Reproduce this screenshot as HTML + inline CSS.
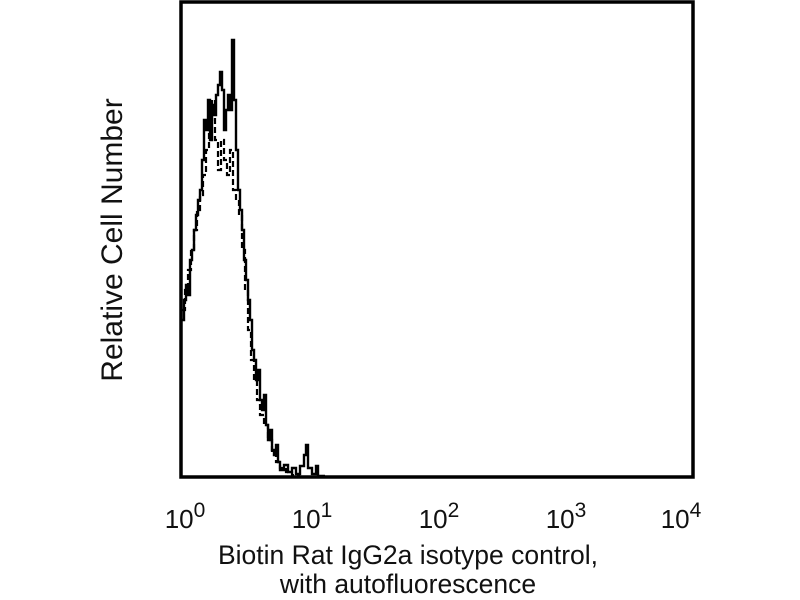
<!DOCTYPE html>
<html><head><style>
html,body{margin:0;padding:0;background:#fff;width:800px;height:600px;overflow:hidden}
text{font-family:"Liberation Sans",Arial,sans-serif;fill:#111}
</style></head><body>
<svg width="800" height="600" viewBox="0 0 800 600">
<rect x="181" y="2" width="512" height="475" fill="#fff" stroke="#000" stroke-width="3.5"/>
<path fill="none" stroke="#000" stroke-width="2.4" stroke-linejoin="miter" d="M182,320 H184 V300 H186 V285 H188 V295 H190 V260 H192 V250 H194 V230 H196 V215 H198 V200 H200 V190 H202 V160 H204 V120 H206 V130 H208 V100 H210 V140 H212 V105 H214 V115 H216 V95 H218 V85 H220 V72 H222 V90 H224 V130 H226 V110 H228 V95 H230 V110 H232 V40 H234 V100 H236 V150 H238 V190 H240 V210 H242 V230 H244 V260 H246 V280 H248 V300 H250 V320 H252 V350 H254 V360 H256 V380 H258 V370 H260 V400 H262 V410 H264 V395 H266 V425 H268 V440 H270 V430 H272 V450 H274 V455 H276 V445 H278 V462 H280 V470 H284 V465 H288 V472 H292 V468 H296 V474 H300 V466 H304 V455 H306 V445 H308 V468 H312 V474 H316 V466 H318 V476 H325"/>
<path fill="none" stroke="#000" stroke-width="2.2" stroke-dasharray="6,3" d="M182,310 H185 V290 H188 V270 H191 V250 H194 V230 H197 V210 H200 V195 H203 V175 H206 V150 H209 V120 H212 V100 H215 V140 H218 V170 H221 V140 H224 V160 H227 V175 H230 V150 H233 V190 H236 V200 H239 V215 H242 V250 H245 V290 H248 V330 H251 V360 H254 V380 H257 V400 H260 V415 H264 V425 H268 V440 H272 V452 H276 V462 H280 V468 H286 V472 H292 V475 H300"/>
<g font-size="26" text-anchor="middle">
<text x="185" y="528">10<tspan font-size="21" dy="-11">0</tspan></text>
<text x="312" y="528">10<tspan font-size="21" dy="-11">1</tspan></text>
<text x="439" y="528">10<tspan font-size="21" dy="-11">2</tspan></text>
<text x="566" y="528">10<tspan font-size="21" dy="-11">3</tspan></text>
<text x="681" y="528">10<tspan font-size="21" dy="-11">4</tspan></text>
</g>
<g font-size="26.5" text-anchor="middle">
<text x="408" y="564">Biotin Rat IgG2a isotype control,</text>
<text x="408" y="593">with autofluorescence</text>
<text transform="translate(122,240) rotate(-90)" font-size="30">Relative Cell Number</text>
</g>
</svg>
</body></html>
